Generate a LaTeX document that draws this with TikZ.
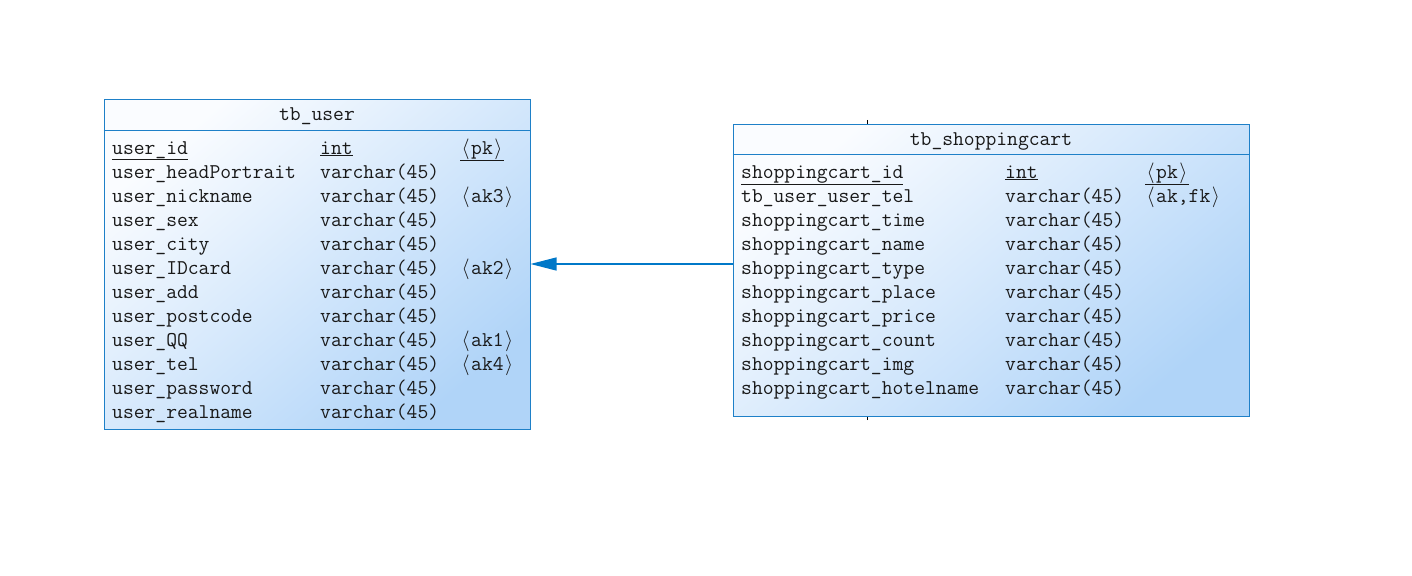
\documentclass[tikz,border=0pt]{standalone}
\usepackage{fontspec}
\usetikzlibrary{arrows.meta}

\definecolor{ercBorder}{RGB}{30,128,200}
\definecolor{ercLink}{RGB}{0,120,200}
\definecolor{ercLight}{RGB}{250,252,255}
\definecolor{ercDark}{RGB}{176,212,248}
\definecolor{ercText}{RGB}{25,25,25}

\newcommand{\ercfont}{\ttfamily\fontsize{21}{24}\selectfont}
\newcommand{\lang}{\makebox[0.525em]{$\langle$}}
\newcommand{\rang}{\makebox[0.525em]{$\rangle$}}

\tikzset{
  tablebox/.style={rectangle, draw=ercBorder, line width=1pt, inner sep=0pt,
    top color=ercLight, bottom color=ercDark, shading angle=40},
  cell/.style={anchor=base west, inner sep=0pt, text=ercText, font=\ercfont},
  title/.style={anchor=base, inner sep=0pt, text=ercText, font=\ercfont},
  sep/.style={draw=ercBorder, line width=1pt},
  link/.style={draw=ercLink, line width=1.2pt,
    -{Triangle[length=26pt, width=13pt]}},
  tick/.style={draw=black, line width=1pt}
}

\begin{document}
\begin{tikzpicture}[x=1pt, y=-1pt]
\useasboundingbox[fill=white] (0,0) rectangle (1412,575);

% ---------- tb_user ----------
\node[tablebox, minimum width=426pt, minimum height=329pt] (user) at (317,264.5) {};
\draw[sep] ([yshift=-31pt]user.north west) -- ([yshift=-31pt]user.north east);
\node[title] (user-title) at (317,121) {tb\_user};

\node[cell] (u-n-1) at (112,154) {\underline{user\_id}};
\node[cell] (u-t-1) at (320,154) {\underline{int}};
\node[cell] (u-k-1) at (460,154) {\underline{\lang pk\rang}};
\foreach \nm/\ty/\ky [count=\i from 2] in {
  user\_headPortrait/varchar(45)/,
  user\_nickname/varchar(45)/ak3,
  user\_sex/varchar(45)/,
  user\_city/varchar(45)/,
  user\_IDcard/varchar(45)/ak2,
  user\_add/varchar(45)/,
  user\_postcode/varchar(45)/,
  user\_QQ/varchar(45)/ak1,
  user\_tel/varchar(45)/ak4,
  user\_password/varchar(45)/,
  user\_realname/varchar(45)/}
{
  \pgfmathsetmacro{\yy}{154+24*(\i-1)}
  \node[cell] (u-n-\i) at (112,\yy) {\nm};
  \node[cell] (u-t-\i) at (320,\yy) {\ty};
  \if\relax\detokenize\expandafter{\ky}\relax\else
    \node[cell] (u-k-\i) at (460,\yy) {\lang\ky\rang};
  \fi
}

% ---------- tb_shoppingcart ----------
\node[tablebox, minimum width=516pt, minimum height=292pt] (cart) at (991,270) {};
\draw[sep] ([yshift=-31pt]cart.north west) -- ([yshift=-31pt]cart.north east);
\node[title] (cart-title) at (991,145) {tb\_shoppingcart};

\node[cell] (c-n-1) at (741,178) {\underline{shoppingcart\_id}};
\node[cell] (c-t-1) at (1005,178) {\underline{int}};
\node[cell] (c-k-1) at (1145,178) {\underline{\lang pk\rang}};
\foreach \nm/\ty/\ky [count=\i from 2] in {
  tb\_user\_user\_tel/varchar(45)/{ak,fk},
  shoppingcart\_time/varchar(45)/,
  shoppingcart\_name/varchar(45)/,
  shoppingcart\_type/varchar(45)/,
  shoppingcart\_place/varchar(45)/,
  shoppingcart\_price/varchar(45)/,
  shoppingcart\_count/varchar(45)/,
  shoppingcart\_img/varchar(45)/,
  shoppingcart\_hotelname/varchar(45)/}
{
  \pgfmathsetmacro{\yy}{178+24.1*(\i-1)}
  \node[cell] (c-n-\i) at (741,\yy) {\nm};
  \node[cell] (c-t-\i) at (1005,\yy) {\ty};
  \if\relax\detokenize\expandafter{\ky}\relax\else
    \node[cell] (c-k-\i) at (1145,\yy) {\lang\ky\rang};
  \fi
}

% small marks on the cart box edges
\coordinate (mk-top) at (867,120);
\coordinate (mk-bot) at (867,420);
\draw[tick] (mk-top) -- (mk-top |- cart.north);
\draw[tick] (mk-bot) -- (mk-bot |- cart.south);

% ---------- reference: cart -> user ----------
\draw[link] (cart.west |- 0,264) -- (user.east |- 0,264);
\end{tikzpicture}
\end{document}
